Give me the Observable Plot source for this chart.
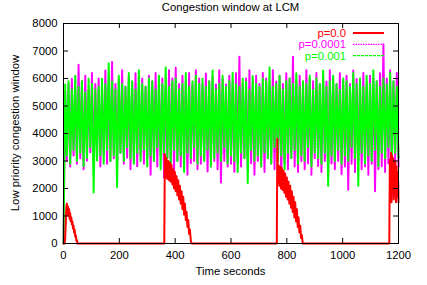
<!DOCTYPE html>
<html><head><meta charset="utf-8">
<script src="https://cdn.jsdelivr.net/npm/d3@7"></script>
<script src="https://cdn.jsdelivr.net/npm/@observablehq/plot@0.6"></script>
<style>
body{margin:0;background:#fff}
#chart{position:relative;width:427px;height:285px}
</style>
</head><body><div id="chart"></div>
<script>
const chartTitle = "Congestion window at LCM";
const xLabel = "Time seconds";
const yLabel = "Low priority congestion window";
const xTicks = [0, 200, 400, 600, 800, 1000, 1200];
const yTicks = [0, 1000, 2000, 3000, 4000, 5000, 6000, 7000, 8000];
const seriesNames = ["p=0.0", "p=0.0001", "p=0.001"];
const seriesColors = ["#ff0000", "#ff00ff", "#00ff00"];
const sampleStep = 6; // seconds between samples of the p=0.0001 and p=0.001 traces

const greenValues = [0,
5800,3200,5900,2900,5600,3400,6100,3000,5700,3300,
5900,2800,5500,3100,6000,3500,5800,1850,5600,3000,
5700,3200,6000,2900,5800,3400,6550,3000,5900,3200,
5600,2050,6100,3300,5800,3000,5700,3500,6200,3100,
5900,2900,5600,3300,6300,3000,5800,3400,5700,2800,
6000,3200,5900,3000,5600,3500,6100,2700,5800,3300,
6400,3100,5700,2900,5900,3400,6000,3000,5600,3200,
5800,2600,6200,3300,5700,3100,5900,3500,6100,2900,
5800,3200,6000,3000,5700,3400,5900,2800,6300,3100,
5600,3300,5800,3000,6100,3500,5700,2900,5900,3200,
6200,3000,5800,2600,5700,3300,6000,3100,5900,2200,
5600,3400,6100,3000,5800,3200,5700,2800,6000,3300,
5900,3100,6400,2900,5700,3500,5800,3000,6100,3200,
5600,2700,5900,3300,6000,3100,5800,3400,6200,2900,
5700,3200,5900,3000,5800,3500,6100,2800,5600,3300,
6000,3100,5800,2900,6300,3300,5700,2100,5900,3200,
6100,3000,5800,3400,5600,2900,6000,3200,5900,3000,
5700,3500,6200,3100,5800,2100,6000,3300,5700,2900,
6100,3200,5800,3000,6300,3400,5900,2800,5700,3300,
6000,3100,5800,3500,6200,3000,5900,3300,5700,3100];

const magentaValues = [0,
5500,3000,5800,2800,6000,3200,5700,2900,6500,3100,
5900,2700,6100,3000,5600,3300,6200,2900,5800,3100,
6000,2800,5700,3200,6300,2900,5900,3000,6600,3100,
5800,2800,6000,3300,6300,2900,5700,3100,6100,2700,
5900,3000,6200,2800,5800,3200,6000,2900,5700,3100,
6100,2500,5900,3000,6200,2800,5800,3200,6000,2400,
5700,3100,6300,2900,6000,2600,6400,3000,5800,2800,
6100,3100,5900,2500,6200,2900,5800,3000,6300,2700,
6000,2900,5800,3100,6200,2600,5900,2800,6100,3000,
5800,2700,6300,2200,6000,3000,5800,2800,6100,2900,
5900,2600,6200,3000,6800,2800,5800,3100,6000,2700,
6300,2900,5900,2500,6100,3000,5800,2800,6200,2600,
6000,3100,5800,2900,6300,2700,5900,3000,6100,2400,
5800,2900,6200,2700,6000,3100,6800,2800,5900,2600,
6100,3000,5800,2700,6300,2900,6000,2500,5900,3100,
6200,2800,5800,2600,6100,3000,5900,2400,6300,2900,
6000,2700,5800,3000,6200,2500,5900,2800,6100,1950,
5800,2900,6300,2600,6000,3000,5900,2700,6200,2800,
5800,2500,6100,2900,6000,1900,5900,2700,6200,2800,
7250,2600,6000,2900,6300,2700,5900,3000,6200,2800];

const redTimes = [0,4,6,8,10,12,14,16,18,20,22,24,26,28,30,32,34,36,38,40,42,44,46,48,50,52,
358,361,363,366,369,372,375,378,381,384,387,390,393,396,399,402,405,408,411,414,417,420,423,426,429,432,435,438,441,444,447,450,453,456,459,
760,764,766,768,770,773,776,779,782,785,788,791,794,797,800,803,806,809,812,815,818,821,824,827,830,833,836,839,842,845,848,851,854,857,860,
1164,1167,1169,1171,1173,1175,1177,1179,1181,1183,1185,1187,1189,1191,1193,1195,1197,1199,1200];
const redValues = [0,0,200,700,1300,1450,1050,1350,1000,1250,900,1100,800,950,700,800,550,650,400,500,250,300,100,120,0,0,
0,0,3250,2400,3100,2350,3000,2300,2950,2250,2850,2150,2700,2000,2600,1900,2450,1750,2300,1600,2100,1450,1900,1250,1700,1050,1450,850,1150,600,850,350,500,100,0,
0,0,3800,2200,2850,2100,2800,2000,2750,1950,2650,1850,2550,1700,2400,1600,2250,1450,2100,1300,1900,1150,1700,950,1500,800,1250,600,950,400,650,200,300,0,0,
0,0,3050,1700,3300,1500,3200,1900,3100,1600,2900,1800,3000,1500,2800,1700,2600,2200,1500];

const greenData = greenValues.map((v, i) => ({t: i * sampleStep, v}));
const magentaData = magentaValues.map((v, i) => ({t: i * sampleStep, v}));
const n = Math.min(redTimes.length, redValues.length);
const redData = redTimes.slice(0, n).map((t, i) => ({t, v: redValues[i]}));

const W = 427, H = 285, mL = 63, mR = 29, mT = 23, mB = 42;
const fw = W - mL - mR, fh = H - mT - mB;
const font = "'Liberation Sans', Arial, Helvetica, sans-serif";
const fs = 11.3;

const plot = Plot.plot({
  width: W, height: H,
  marginLeft: mL, marginRight: mR, marginTop: mT, marginBottom: mB,
  style: {fontFamily: font, fontSize: fs + "px", color: "#000", background: "#fff", overflow: "visible"},
  x: {domain: [0, 1200]},
  y: {domain: [0, 8000]},
  marks: [
    Plot.line(magentaData, {x: "t", y: "v", stroke: seriesColors[1], strokeWidth: 2, strokeDasharray: "2,1"}),
    Plot.line(greenData, {x: "t", y: "v", stroke: seriesColors[2], strokeWidth: 2, strokeDasharray: "4,1"}),
    Plot.line(redData, {x: "t", y: "v", stroke: seriesColors[0], strokeWidth: 2}),
    Plot.frame({stroke: "#000"}),
    Plot.tickX(xTicks, {x: d => d, insetTop: fh - 5, stroke: "#000"}),
    Plot.tickX(xTicks, {x: d => d, insetBottom: fh - 5, stroke: "#000"}),
    Plot.tickY(yTicks, {y: d => d, insetRight: fw - 5, stroke: "#000"}),
    Plot.tickY(yTicks, {y: d => d, insetLeft: fw - 5, stroke: "#000"}),
    Plot.axisX({ticks: xTicks, tickSize: 0, tickPadding: 7, label: null, tickFormat: d => String(d), fill: "#000"}),
    Plot.axisY({ticks: yTicks, tickSize: 0, tickPadding: 6, label: null, tickFormat: d => String(d), fill: "#000"})
  ]
});

const svg = d3.select(plot);
const cx = mL + fw / 2, cy = mT + fh / 2;
svg.append("text").attr("x", cx).attr("y", 10.5).attr("text-anchor", "middle")
  .attr("font-family", font).attr("font-size", fs).attr("fill", "#000").text(chartTitle);
svg.append("text").attr("x", cx).attr("y", 275).attr("text-anchor", "middle")
  .attr("font-family", font).attr("font-size", fs).attr("fill", "#000").text(xLabel);
svg.append("text").attr("transform", `translate(18.5,${cy}) rotate(-90)`).attr("text-anchor", "middle")
  .attr("font-family", font).attr("font-size", fs).attr("fill", "#000").text(yLabel);

// key
const keyRows = [33, 44.3, 55.6];
const keyDash = [null, "1.5,1", "3,1"];
const keyWidth = [2, 1.3, 1.3];
seriesNames.forEach((name, i) => {
  svg.append("text").attr("x", 346).attr("y", keyRows[i] + 4).attr("text-anchor", "end")
    .attr("font-family", font).attr("font-size", fs).attr("fill", seriesColors[i]).text(name);
  const l = svg.append("line").attr("x1", 353).attr("x2", 384).attr("y1", keyRows[i]).attr("y2", keyRows[i])
    .attr("stroke", seriesColors[i]).attr("stroke-width", keyWidth[i]);
  if (keyDash[i]) l.attr("stroke-dasharray", keyDash[i]);
});

document.getElementById("chart").appendChild(plot);
</script>
</body></html>
